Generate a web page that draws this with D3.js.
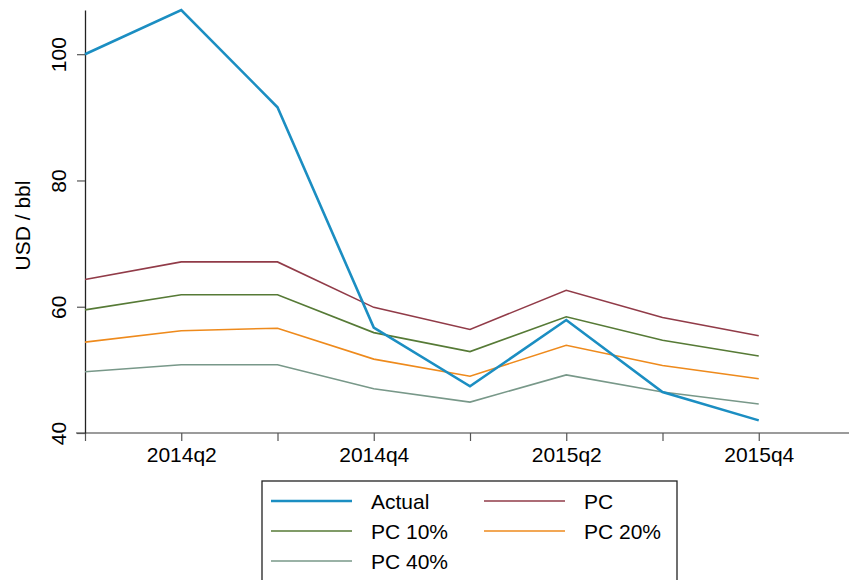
<!DOCTYPE html>
<html lang="en">
<head>
    <meta charset="UTF-8">
    <title>Oil price: actual vs PC</title>
    <style>
        body { margin: 0; background: #fff; }
        svg { display: block; font-family: "Liberation Sans", Arial, sans-serif; }
        .axis text { font-size: 21px; fill: #000; }
        .series { fill: none; stroke-linejoin: miter; }
    </style>
    <script src="https://d3js.org/d3.v7.min.js"></script>
</head>
<body>
<div id="chart"></div>
<script>
    // Quarters 2014q1 .. 2015q4
    const quarters = ["2014q1", "2014q2", "2014q3", "2014q4", "2015q1", "2015q2", "2015q3", "2015q4"];
    const actual = [100.0, 107.0, 91.6, 56.7, 47.4, 57.9, 46.5, 42.0];
    const pc     = [64.3, 67.1, 67.1, 59.9, 56.4, 62.6, 58.3, 55.4];
    const pc10   = [59.5, 61.9, 61.9, 55.9, 52.9, 58.4, 54.7, 52.2];
    const pc20   = [54.4, 56.2, 56.6, 51.7, 49.0, 53.9, 50.7, 48.6];
    const pc40   = [49.7, 50.8, 50.8, 47.0, 44.9, 49.2, 46.5, 44.6];
    const yTicks = [40, 60, 80, 100];
    const labeledQuarters = ["2014q2", "2014q4", "2015q2", "2015q4"];

    const series = [
        { name: "Actual", values: actual, color: "#1b8ec2", width: 2.6 },
        { name: "PC",     values: pc,     color: "#913b48", width: 1.6 },
        { name: "PC 10%", values: pc10,   color: "#567a36", width: 1.6 },
        { name: "PC 20%", values: pc20,   color: "#ee8a1c", width: 1.6 },
        { name: "PC 40%", values: pc40,   color: "#789889", width: 1.6 }
    ];

    const width = 849, height = 580;
    const svg = d3.select("#chart").append("svg")
        .attr("width", width)
        .attr("height", height);

    // x runs one quarter past the last observation (clipped at the edge)
    const x = d3.scaleLinear().domain([0, quarters.length]).range([85, 855]);
    const y = d3.scaleLinear().domain([40, 107]).range([433, 10]);

    // x axis
    const xAxis = svg.append("g")
        .attr("class", "axis")
        .attr("transform", `translate(0,${y(40)})`)
        .call(d3.axisBottom(x)
            .tickValues(d3.range(quarters.length))
            .tickSize(8)
            .tickSizeOuter(0)
            .tickFormat(i => labeledQuarters.includes(quarters[i]) ? quarters[i] : ""));
    xAxis.select(".domain")
        .attr("d", `M${x.range()[0] - 9},0H${x.range()[1]}`)
        .attr("stroke", "#7a7a7a").attr("stroke-width", 1.6);
    xAxis.selectAll(".tick line").attr("stroke", "#555").attr("stroke-width", 1.2);
    xAxis.selectAll(".tick text").attr("y", 14).attr("dy", "0.71em");

    // y axis
    const yAxis = svg.append("g")
        .attr("class", "axis")
        .attr("transform", `translate(${x(0)},0)`)
        .call(d3.axisLeft(y)
            .tickValues(yTicks)
            .tickSize(8)
            .tickSizeOuter(0));
    yAxis.select(".domain").attr("stroke", "#222").attr("stroke-width", 1.3);
    yAxis.selectAll(".tick line").attr("stroke", "#555").attr("stroke-width", 1.2);
    yAxis.selectAll(".tick text")
        .attr("x", null).attr("dy", null)
        .attr("text-anchor", "middle")
        .attr("transform", "translate(-19,0) rotate(-90)");

    svg.append("text")
        .attr("transform", `translate(30,${(y(40) + y(107)) / 2 + 4}) rotate(-90)`)
        .attr("text-anchor", "middle")
        .attr("font-size", 21)
        .text("USD / bbl");

    // lines (PC family first, Actual on top)
    const line = d3.line().x((d, i) => x(i)).y(d => y(d));
    svg.selectAll(".series")
        .data(series.slice(1).concat(series.slice(0, 1)))
        .enter().append("path")
        .attr("class", "series")
        .attr("stroke", d => d.color)
        .attr("stroke-width", d => d.width)
        .attr("d", d => line(d.values));

    // legend
    const legend = svg.append("g").attr("transform", "translate(262,481)");
    legend.append("rect")
        .attr("width", 415).attr("height", 120)
        .attr("fill", "#fff").attr("stroke", "#222").attr("stroke-width", 1.3);
    const item = legend.selectAll(".item")
        .data(series)
        .enter().append("g")
        .attr("transform", (d, i) => `translate(${9 + (i % 2) * 213},${20 + Math.floor(i / 2) * 30})`);
    item.append("line")
        .attr("x1", 0).attr("x2", 81)
        .attr("stroke", d => d.color)
        .attr("stroke-width", d => d.width);
    item.append("text")
        .attr("x", 100).attr("y", 7.5)
        .attr("font-size", 21)
        .text(d => d.name);
</script>
</body>
</html>
